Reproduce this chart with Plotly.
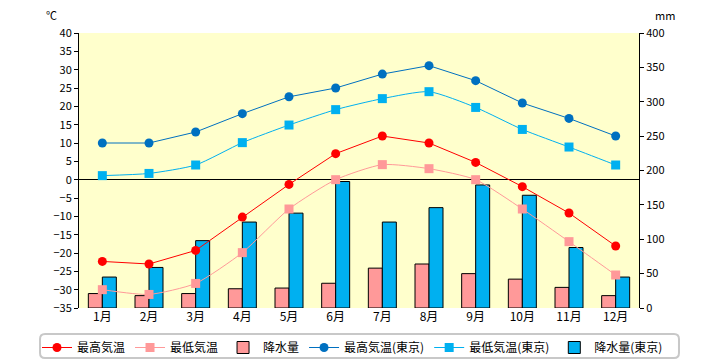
import plotly.graph_objects as go

months = ["1月", "2月", "3月", "4月", "5月", "6月", "7月", "8月", "9月", "10月", "11月", "12月"]

max_temp = [-22.3, -23.0, -19.3, -10.2, -1.3, 7.1, 11.9, 10.0, 4.7, -1.9, -9.1, -18.1]
min_temp = [-30.0, -31.3, -28.3, -19.9, -8.0, 0.0, 4.1, 3.0, 0.0, -8.0, -16.9, -26.0]
precip = [21, 18, 21, 28, 29, 36, 58, 64, 50, 42, 30, 18]

tokyo_max = [10.0, 10.0, 13.0, 18.0, 22.6, 25.0, 28.8, 31.1, 27.0, 20.9, 16.7, 11.9]
tokyo_min = [1.1, 1.7, 4.0, 10.1, 14.9, 19.1, 22.1, 24.0, 19.7, 13.7, 8.9, 4.0]
tokyo_precip = [45, 59, 98, 125, 138, 184, 125, 146, 179, 164, 88, 45]

temp_ticks = list(range(-35, 41, 5))
precip_ticks = list(range(0, 401, 50))

FONT = "Noto Sans CJK JP"

# the page body has an 8px margin, so the figure is drawn at (8, 8)
OFF = 8
W, H = 720 - OFF, 360 - OFF

fig = go.Figure()

# bars on primary (right) axis so they are drawn beneath the lines
fig.add_trace(go.Bar(x=months, y=precip, name="降水量", yaxis="y",
                     marker=dict(color="#FF9999", line=dict(color="#000000", width=1)),
                     legendrank=3))
fig.add_trace(go.Bar(x=months, y=tokyo_precip, name="降水量(東京)", yaxis="y",
                     marker=dict(color="#00B0F0", line=dict(color="#000000", width=1)),
                     legendrank=6))

fig.add_trace(go.Scatter(x=months, y=max_temp, name="最高気温", yaxis="y2",
                         mode="lines+markers", line=dict(color="#FF0000", width=1),
                         marker=dict(symbol="circle", size=9, color="#FF0000"),
                         legendrank=1))
fig.add_trace(go.Scatter(x=months, y=min_temp, name="最低気温", yaxis="y2",
                         mode="lines+markers", line=dict(color="#FF9999", width=1, shape="spline", smoothing=0.6),
                         marker=dict(symbol="square", size=9, color="#FF9999"),
                         legendrank=2))
fig.add_trace(go.Scatter(x=months, y=tokyo_max, name="最高気温(東京)", yaxis="y2",
                         mode="lines+markers", line=dict(color="#0070C0", width=1),
                         marker=dict(symbol="circle", size=9, color="#0070C0"),
                         legendrank=4))
fig.add_trace(go.Scatter(x=months, y=tokyo_min, name="最低気温(東京)", yaxis="y2",
                         mode="lines+markers", line=dict(color="#00B0F0", width=1, shape="spline", smoothing=0.6),
                         marker=dict(symbol="square", size=9, color="#00B0F0"),
                         legendrank=5))

fig.update_layout(
    width=W, height=H,
    margin=dict(l=79 - OFF, r=81, t=33 - OFF, b=52, autoexpand=False),
    paper_bgcolor="#FFFFFF",
    plot_bgcolor="#FFFFCC",
    font=dict(family=FONT, size=11, color="#000000"),
    barmode="group",
    bargap=0.4,
    bargroupgap=0,
    showlegend=True,
    legend=dict(orientation="h", xref="paper", yref="paper",
                x=(37 - 79) / 560, xanchor="left", y=(308 - 333) / 275, yanchor="top",
                font=dict(family=FONT, size=12), bgcolor="rgba(0,0,0,0)",
                borderwidth=0, traceorder="normal", itemwidth=30),
    xaxis=dict(type="category", range=[-0.5, 11.5], showgrid=False, showline=False,
               ticks="", zeroline=False, tickfont=dict(size=12)),
    yaxis=dict(side="right", range=[0, 400], tickvals=precip_ticks, showgrid=False,
               showline=True, linecolor="#000000", linewidth=1, ticks="outside",
               ticklen=4, tickcolor="#000000", zeroline=False, tickfont=dict(size=11)),
    yaxis2=dict(side="left", overlaying="y", range=[-35, 40], tickvals=temp_ticks,
                showgrid=False, showline=True, linecolor="#000000", linewidth=1,
                ticks="outside", ticklen=4, tickcolor="#000000", zeroline=True,
                zerolinecolor="#000000", zerolinewidth=1, tickfont=dict(size=11)),
    annotations=[
        dict(text="℃", xref="paper", yref="paper", x=(51 - 79) / 560, y=1.0, yshift=18,
             xanchor="center", yanchor="middle", showarrow=False, font=dict(size=11)),
        dict(text="mm", xref="paper", yref="paper", x=(665 - 79) / 560, y=1.0, yshift=18,
             xanchor="center", yanchor="middle", showarrow=False, font=dict(size=11)),
    ],
    shapes=[
        dict(type="path", xref="paper", yref="paper", layer="below",
             path="M -0.0607,-0.0945 L 1.0625,-0.0945 Q 1.0714,-0.0945 1.0714,-0.1127 "
                  "L 1.0714,-0.1636 Q 1.0714,-0.1818 1.0625,-0.1818 L -0.0607,-0.1818 "
                  "Q -0.0696,-0.1818 -0.0696,-0.1636 L -0.0696,-0.1127 Q -0.0696,-0.0945 -0.0607,-0.0945 Z",
             line=dict(color="#C8C8C8", width=2)),
    ],
)

fig.write_html("out.html")
